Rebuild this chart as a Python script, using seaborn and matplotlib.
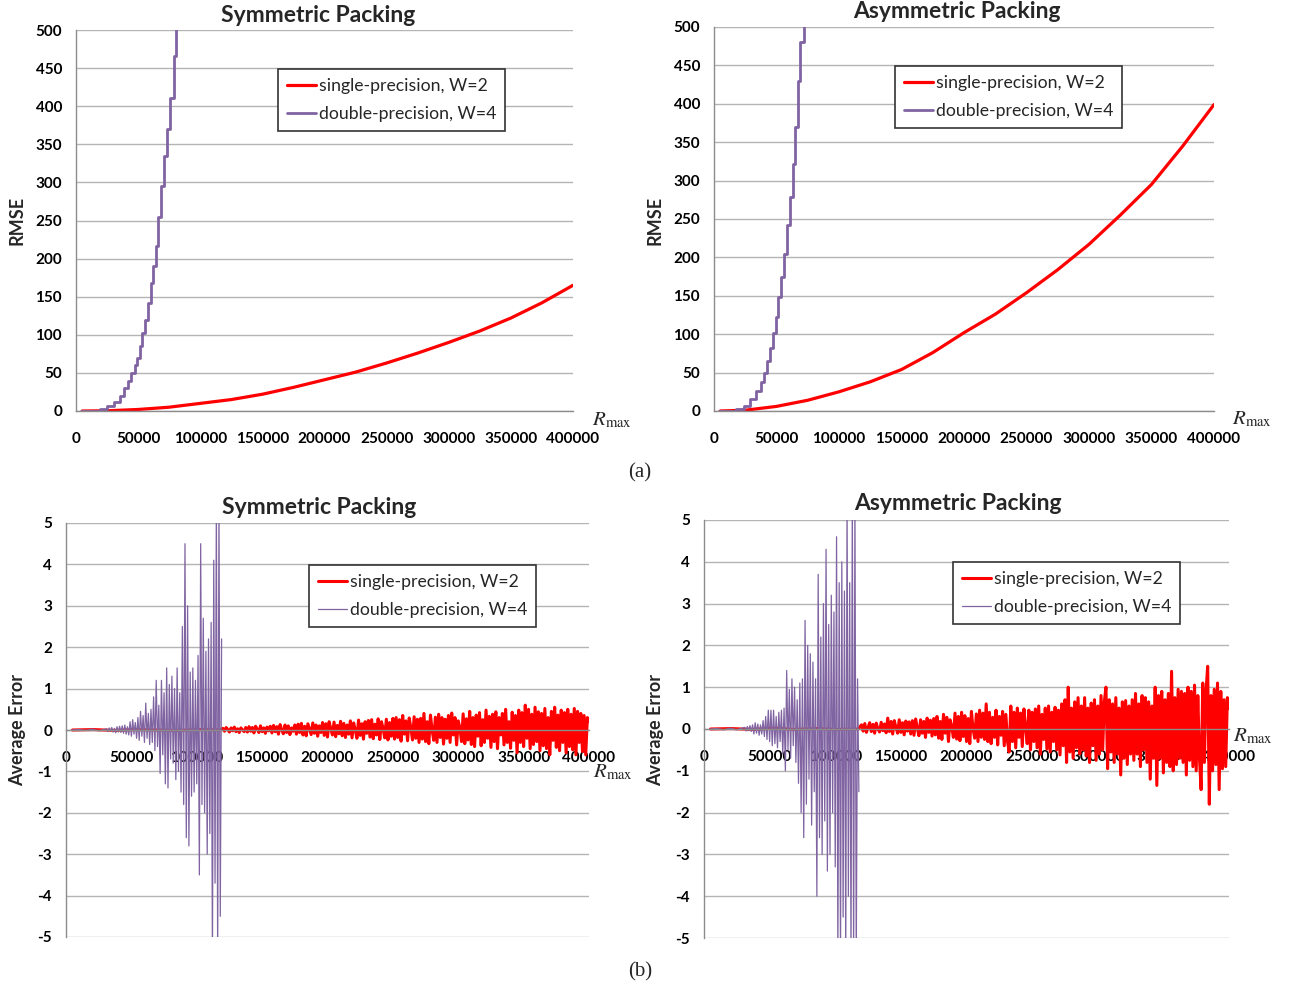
import numpy as np
import pandas as pd
import matplotlib
matplotlib.use("Agg")
import matplotlib.pyplot as plt
import seaborn as sns

# ---------------- data ----------------
rmax_ticks = [0, 50000, 100000, 150000, 200000, 250000, 300000, 350000, 400000]
rmse_ticks = [0, 50, 100, 150, 200, 250, 300, 350, 400, 450, 500]
err_ticks = [-5, -4, -3, -2, -1, 0, 1, 2, 3, 4, 5]
series_names = ["single-precision, W=2", "double-precision, W=4"]

# (a) RMSE, symmetric packing
sym_rmse_single_x = [5000, 25000, 50000, 75000, 100000, 125000, 150000, 175000, 200000,
                     225000, 250000, 275000, 300000, 325000, 350000, 375000, 400000]
sym_rmse_single_y = [0, 0.3, 2, 5, 10, 15, 22, 31, 41, 51, 63, 76, 90, 105, 122, 142, 165]
sym_rmse_double_x = [4000, 16000, 19400, 25000, 30800, 35100, 39000, 41700, 44600, 47200,
                     48900, 51500, 53500, 55800, 57700, 60000, 62000, 64300, 66300, 68500,
                     71000, 73500, 76000, 78500, 80700]
sym_rmse_double_y = [0, 0, 2, 6, 12, 20, 30, 40, 50, 60, 70, 85, 103, 120, 142, 168, 190,
                     216, 254, 295, 335, 370, 411, 466, 505]

# (a) RMSE, asymmetric packing
asym_rmse_single_x = sym_rmse_single_x
asym_rmse_single_y = [0, 1, 6, 14, 25, 38, 54, 76, 102, 126, 154, 184, 217, 255, 295, 345, 399]
asym_rmse_double_x = [4000, 12300, 17900, 23900, 28900, 33900, 37200, 39900, 42200, 44900,
                      47200, 49500, 51500, 53800, 55800, 58500, 60500, 62800, 64800, 67100,
                      68800, 72100]
asym_rmse_double_y = [0, 0, 2, 7, 15, 26, 38, 50, 65, 82, 102, 122, 148, 175, 205, 242, 278,
                      322, 370, 430, 480, 505]

# (b) average error, symmetric packing
sym_err_single_quiet = [0.0, 0.01, -0.01, 0.01, 0.0, -0.01, 0.01, 0.0]          # 5000..117500
sym_err_single_noisy = [                                                          # 120000..400000, every 1250
    0.04, -0.03, 0.06, 0.01, -0.05, 0.05, -0.02, 0.07, -0.04, 0.03, -0.06, 0.05, 0.0, -0.04, 0.06,
    -0.05, 0.08, -0.03, 0.06, -0.07, 0.09, 0.02, -0.06, 0.10, -0.04, 0.05, -0.08, 0.07, -0.02, 0.09,
    -0.07, 0.11, -0.04, 0.08, -0.10, 0.13, 0.0, -0.09, 0.12, -0.06, 0.10, -0.11, 0.05, -0.03, 0.12,
    -0.10, 0.14, -0.06, 0.16, -0.12, 0.09, -0.14, 0.15, 0.02, -0.11, 0.17, -0.08, 0.12, -0.15, 0.10,
    -0.06, 0.18, -0.13, 0.15, -0.17, 0.20, 0.03, -0.12, 0.19, -0.16, 0.11, -0.09, 0.21, -0.14, 0.16,
    -0.18, 0.12, -0.10, 0.22, -0.19, 0.17, 0.0, -0.20, 0.24, -0.13, 0.15, -0.22, 0.20, -0.08, 0.23,
    -0.17, 0.25, -0.21, 0.14, -0.12, 0.27, -0.23, 0.20, 0.04, -0.19, 0.26, -0.24, 0.18, -0.15, 0.28,
    -0.22, 0.30, -0.18, 0.25, -0.27, 0.35, -0.10, 0.22, -0.26, 0.29, 0.05, -0.24, 0.32, -0.20, 0.26,
    -0.30, 0.28, -0.22, 0.40, -0.28, 0.20, -0.33, 0.36, 0.0, -0.25, 0.31, -0.30, 0.38, -0.18, 0.30,
    -0.34, 0.26, -0.20, 0.35, -0.30, 0.41, -0.12, 0.30, -0.36, 0.22, 0.05, -0.28, 0.39, -0.33, 0.27,
    -0.24, 0.45, -0.35, 0.30, -0.40, 0.36, -0.15, 0.42, -0.38, 0.25, -0.30, 0.48, -0.20, 0.33, -0.42,
    0.38, -0.28, 0.44, -0.45, 0.30, -0.12, 0.40, -0.36, 0.50, -0.30, 0.20, -0.44, 0.43, -0.25, 0.35,
    -0.55, 0.48, -0.30, 0.42, -0.40, 0.60, -0.20, 0.50, -0.45, 0.38, -0.35, 0.55, -0.28, 0.44, -0.50,
    0.40, -0.38, 0.52, -0.45, 0.30, -0.60, 0.45, -0.25, 0.55, -0.42, 0.36, -0.50, 0.48, -0.30, 0.42,
    -0.55, 0.50, -0.40, 0.38, -0.48, 0.52, -0.60, 0.45, -0.30, 0.40, -0.52, 0.35, -0.60, 0.30, 0.20]
sym_err_double_quiet = [0.0, 0.01, -0.01, 0.02, -0.02, 0.02]                      # 5000..30000
sym_err_double_noisy = [                                                          # 31000..119000, every 1000
    0.03, -0.04, 0.05, -0.03, 0.06, -0.05, 0.04, -0.07, 0.08, -0.05,
    0.09, -0.06, 0.10, -0.08, 0.12, -0.10, 0.08, -0.12, 0.20, -0.15,
    0.25, -0.10, 0.18, -0.20, 0.30, -0.25, 0.45, -0.15, 0.35, -0.30,
    0.65, -0.20, 0.40, -0.35, 0.50, -0.30, 0.80, -0.50, 1.20, -0.40,
    0.60, -1.05, 1.20, -0.60, 0.90, -1.30, 1.50, -1.40, 1.10, -0.70,
    1.30, -0.80, 1.00, -1.20, 1.50, -1.00, 0.90, -1.50, 2.50, -1.80,
    4.50, -2.60, 3.00, -2.80, 1.40, -1.60, 1.50, -1.50, 1.20, -1.30,
    1.80, -3.50, 4.50, -1.80, 2.70, -2.00, 1.90, -3.00, 2.20, -2.50,
    2.60, -5.50, 4.10, -3.70, 5.50, -5.50, 5.50, -4.50, 2.20]

# (b) average error, asymmetric packing
asym_err_single_quiet = [0.0, 0.01, -0.01, 0.02, -0.01, 0.01, -0.01, 0.0]         # 5000..117500
asym_err_single_noisy = [                                                         # 120000..400000, every 1250
    0.10, -0.05, 0.13, -0.08, 0.04, 0.15, -0.06, 0.11, -0.10, 0.14, 0.0, -0.07, 0.16, -0.04, 0.12,
    -0.09, 0.26, -0.06, 0.18, -0.12, 0.20, 0.03, -0.10, 0.22, -0.08, 0.15, -0.14, 0.19, -0.05, 0.17,
    -0.12, 0.20, -0.15, 0.24, 0.02, -0.16, 0.22, -0.10, 0.18, -0.20, 0.26, -0.08, 0.21, -0.17, 0.25,
    -0.14, 0.30, -0.22, 0.18, -0.25, 0.35, -0.10, 0.28, -0.30, 0.22, 0.05, -0.20, 0.38, -0.24, 0.30,
    -0.28, 0.40, -0.18, 0.32, -0.30, 0.25, -0.35, 0.42, 0.0, -0.22, 0.36, -0.30, 0.45, -0.20, 0.38,
    -0.25, 0.60, -0.30, 0.40, -0.35, 0.28, -0.20, 0.45, -0.38, 0.30, -0.15, 0.42, -0.40, 0.35, -0.30,
    -0.55, 0.55, -0.30, 0.40, -0.45, 0.50, -0.20, 0.38, -0.42, 0.48, 0.05, -0.35, 0.45, -0.50, 0.40,
    -0.30, 0.48, -0.45, 0.55, -0.60, 0.35, -0.25, 0.50, -0.48, 0.55, -0.55, 0.40, -0.30, 0.52, -0.50,
    0.45, -0.62, 0.60, -0.40, 0.70, -0.80, 1.00, -0.55, 0.50, -0.70, 0.65, -0.45, 0.75, -0.60, 0.55,
    -0.50, 0.75, -0.65, 0.50, -0.80, 0.62, -0.40, 0.70, -0.75, 0.55, -0.60, 0.80, -0.50, 0.65, 1.00,
    -0.95, 0.70, -0.55, 0.60, -0.80, 0.75, -0.60, 0.50, -1.10, 0.65, -0.70, 0.68, -0.85, 0.55, -0.60,
    0.70, -0.75, 0.85, -0.60, 0.60, -0.90, 0.80, -0.50, 0.75, -0.80, 0.65, -1.20, 0.55, -0.70, 1.00,
    -1.35, 0.80, -0.70, 0.90, -1.05, 0.70, -0.80, 0.85, -0.90, 1.38, -1.00, 0.75, -0.85, 0.95, -0.70,
    0.90, -0.80, 0.85, -1.10, 1.00, -0.75, 0.90, -0.90, 1.05, -1.00, 0.80, -0.70, -1.45, 1.10, -0.80,
    0.90, 1.50, -1.80, 0.80, -1.00, 0.95, -0.85, 1.10, -1.45, 0.90, -0.95, 0.70, -0.90, 0.75, 0.50]
asym_err_double_quiet = [0.0, 0.01, -0.02, 0.02, -0.02, 0.03]                     # 5000..30000
asym_err_double_noisy = [                                                         # 31000..118000, every 1000
    0.04, -0.05, 0.06, -0.04, 0.08, -0.06, 0.10, -0.12, 0.15, -0.10,
    0.12, -0.15, 0.10, -0.12, 0.20, -0.18, 0.30, -0.25, 0.45, -0.30,
    0.45, -0.40, 0.45, -0.35, 0.30, -0.45, 0.40, -0.30, 0.45, -0.60,
    0.50, -1.00, 1.40, -0.50, 0.95, -0.70, 1.20, -0.40, 1.00, -0.80,
    0.70, -1.30, 1.10, -2.00, 1.20, -2.60, 2.60, -1.80, 2.00, -1.20,
    1.80, -2.30, 1.60, -1.50, 1.20, -4.00, 3.70, -2.60, 2.20, -3.00,
    3.00, -2.20, 4.30, -3.40, 2.50, -3.00, 3.20, -2.00, 2.80, -3.30,
    4.60, -5.50, 3.50, -5.50, 4.00, -4.50, 3.30, -5.50, 5.50, -4.00,
    3.50, -5.50, 5.50, -5.50, 5.50, -5.50, 1.20, -1.50]

RED = "#ff0000"
PURPLE = "#8064a2"
GRID = "#b4b4b4"
AXIS = "#8c8c8c"
W, H = 1291, 991

sns.set_theme(style="white")
plt.rcParams["font.family"] = ["Lato", "DejaVu Sans"]
plt.rcParams["mathtext.fontset"] = "stix"
plt.rcParams["axes.unicode_minus"] = False


def frame(parts):
    xs, ys = [], []
    for lo, hi, vals in parts:
        xs.append(np.linspace(lo, hi, len(vals)))
        ys.append(np.asarray(vals, dtype=float))
    return pd.DataFrame({"Rmax": np.concatenate(xs), "value": np.concatenate(ys)})


def px(x, y):
    return x / W, 1 - y / H


fig = plt.figure(figsize=(W / 100, H / 100), dpi=100)

ax_tl = fig.add_axes([76 / W, 1 - 411 / H, 497 / W, 381 / H])
ax_tr = fig.add_axes([714 / W, 1 - 411 / H, 500 / W, 384 / H])
ax_bl = fig.add_axes([66 / W, 1 - 937 / H, 523 / W, 414 / H])
ax_br = fig.add_axes([704 / W, 1 - 938 / H, 525 / W, 418 / H])

# ---- top row: RMSE ----
top = [
    (ax_tl, sym_rmse_single_x, sym_rmse_single_y, sym_rmse_double_x, sym_rmse_double_y),
    (ax_tr, asym_rmse_single_x, asym_rmse_single_y, asym_rmse_double_x, asym_rmse_double_y),
]
for ax, sx, sy, dx, dy in top:
    sns.lineplot(x=sx, y=sy, ax=ax, color=RED, linewidth=2.3, label=series_names[0])
    sns.lineplot(x=dx, y=dy, ax=ax, color=PURPLE, linewidth=2.0,
                 drawstyle="steps-post", label=series_names[1])
    ax.set_ylim(0, 500)
    ax.set_yticks(rmse_ticks)
    ax.set_ylabel("")

# ---- bottom row: average error ----
bottom = [
    (ax_bl, sym_err_single_quiet, sym_err_single_noisy, sym_err_double_quiet,
     sym_err_double_noisy, 119000),
    (ax_br, asym_err_single_quiet, asym_err_single_noisy, asym_err_double_quiet,
     asym_err_double_noisy, 118000),
]
for ax, sq, sn, dq, dn, dend in bottom:
    single = frame([(5000, 117500, sq), (120000, 400000, sn)])
    double = frame([(5000, 30000, dq), (31000, dend, dn)])
    sns.lineplot(data=single, x="Rmax", y="value", ax=ax, color=RED, linewidth=2.2,
                 label=series_names[0])
    sns.lineplot(data=double, x="Rmax", y="value", ax=ax, color=PURPLE, linewidth=0.9,
                 label=series_names[1])
    ax.set_ylim(-5, 5)
    ax.set_yticks(err_ticks)
    ax.spines["bottom"].set_position(("data", 0))
    ax.set_ylabel("")

for ax in (ax_tl, ax_tr, ax_bl, ax_br):
    ax.set_xlim(0, 400000)
    ax.set_xticks(rmax_ticks)
    ax.set_xticklabels([str(t) for t in rmax_ticks])
    ax.set_xlabel("")
    ax.yaxis.grid(True, color=GRID, linewidth=1.0)
    ax.xaxis.grid(False)
    ax.set_axisbelow(True)
    ax.set_facecolor("white")
    for s in ("top", "right"):
        ax.spines[s].set_visible(False)
    for s in ("left", "bottom"):
        ax.spines[s].set_color(AXIS)
        ax.spines[s].set_linewidth(1.0)
    ax.tick_params(axis="x", direction="out", length=4, width=1, color=AXIS,
                   pad=11, labelsize=11, labelcolor="black")
    ax.tick_params(axis="y", direction="out", length=4, width=1, color=AXIS,
                   pad=6, labelsize=11, labelcolor="black")
    for lab in ax.get_xticklabels() + ax.get_yticklabels():
        lab.set_fontweight("bold")

# legends
legend_spots = [(ax_tl, 278, 69), (ax_tr, 895, 66), (ax_bl, 309, 565), (ax_br, 953, 562)]
for ax, lx, ly in legend_spots:
    leg = ax.legend(loc="upper left", bbox_to_anchor=px(lx, ly), bbox_transform=fig.transFigure,
                    frameon=True, fancybox=False, framealpha=1, edgecolor="#333333",
                    fontsize=12.7, handlelength=1.65, handletextpad=0.15, borderpad=0.5,
                    labelspacing=0.7, borderaxespad=0)
    leg.get_frame().set_linewidth(1.2)

# titles, axis labels, Rmax labels, captions
titles = [("Symmetric Packing", 318, 15), ("Asymmetric Packing", 957, 12),
          ("Symmetric Packing", 319, 507), ("Asymmetric Packing", 958, 504)]
for txt, x, y in titles:
    fig.text(*px(x, y), txt, ha="center", va="center", fontsize=16.5, fontweight="bold")

ylabels = [("RMSE", 17, 220), ("RMSE", 655, 220), ("Average Error", 18, 730),
           ("Average Error", 656, 730)]
for txt, x, y in ylabels:
    fig.text(*px(x, y), txt, ha="center", va="center", rotation=90, fontsize=13,
             fontweight="bold")

for x, y in [(612, 420), (1252, 419), (613, 772), (1253, 736)]:
    fig.text(*px(x, y), r"$R_{\rm max}$", ha="center", va="center", fontsize=15)

for txt, x, y in [("(a)", 640, 473), ("(b)", 640, 972)]:
    fig.text(*px(x, y), txt, ha="center", va="center", fontsize=15,
             family=["Liberation Serif", "DejaVu Serif"])

fig.savefig("out.png", dpi=100, facecolor="white")
